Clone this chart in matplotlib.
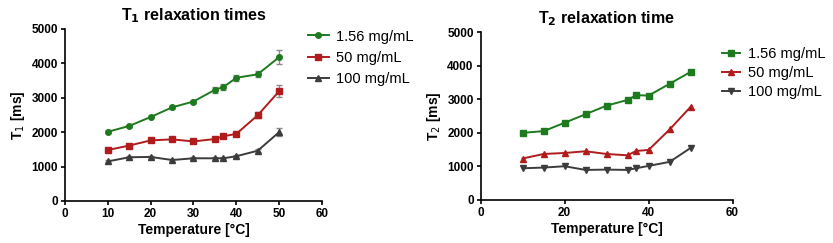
import numpy as np
import matplotlib
matplotlib.use("Agg")
import matplotlib.pyplot as plt
from matplotlib.lines import Line2D

plt.rcParams['font.family'] = ['Liberation Sans', 'DejaVu Sans']

# temperatures
temp = [10, 15, 20, 25, 30, 35, 37, 40, 45, 50]
labels = ['1.56 mg/mL', '50 mg/mL', '100 mg/mL']

# T1 values and error bars
t1_low = [2010, 2180, 2440, 2720, 2890, 3230, 3310, 3580, 3680, 4180]
t1_mid = [1480, 1610, 1760, 1790, 1730, 1800, 1880, 1950, 2490, 3190]
t1_high = [1150, 1270, 1280, 1190, 1240, 1240, 1240, 1300, 1460, 2000]
t1_low_err = [40, 40, 40, 40, 50, 90, 90, 90, 90, 200]
t1_mid_err = [40, 40, 40, 40, 40, 40, 60, 40, 90, 180]
t1_high_err = [30, 30, 30, 30, 30, 30, 30, 30, 40, 110]

# T2 values
t2_low = [2000, 2050, 2300, 2555, 2810, 2980, 3120, 3110, 3460, 3815]
t2_mid = [1235, 1370, 1400, 1450, 1370, 1330, 1460, 1490, 2100, 2775]
t2_high = [945, 965, 1005, 895, 905, 895, 945, 1015, 1135, 1550]

green = '#1e7a1e'
red = '#b01c1c'
gray = '#3c3c3c'

fig = plt.figure(figsize=(8.33, 2.43), dpi=100)
ax1 = fig.add_axes([0.078, 0.173, 0.3085, 0.708])
ax2 = fig.add_axes([0.577, 0.177, 0.3025, 0.691])


def style(ax, sub, title, markers, anchor, spacing, hlen):
    ax.set_xlim(0, 60)
    ax.set_ylim(0, 5000)
    ax.set_yticks([0, 1000, 2000, 3000, 4000, 5000])
    ax.spines['top'].set_visible(False)
    ax.spines['right'].set_visible(False)
    for s in ['left', 'bottom']:
        ax.spines[s].set_linewidth(1.2)
    ax.tick_params(direction='out', length=3, width=1.2, labelsize=8.5, pad=2)
    for lab in ax.get_xticklabels() + ax.get_yticklabels():
        lab.set_fontweight('bold')
    ax.set_xlabel('Temperature [°C]', fontsize=10, fontweight='bold', labelpad=2)
    ax.set_ylabel('T$_{%s}$ [ms]' % sub, fontsize=10, fontweight='bold', labelpad=3)
    ax.set_title('T$_{\\mathbf{%s}}$ relaxation %s' % (sub, title), fontsize=11.5,
                 fontweight='bold', pad=6)
    handles = [Line2D([], [], color=c, marker=m, ms=4, lw=1.4)
               for c, m in zip([green, red, gray], markers)]
    ax.legend(handles, labels, loc='upper left', bbox_to_anchor=anchor, frameon=False,
              fontsize=10.5, handlelength=hlen, handletextpad=0.5, labelspacing=spacing,
              borderaxespad=0)


ebkw = dict(ecolor='#8a8a8a', elinewidth=1, capsize=2, capthick=1)
ax1.errorbar(temp, t1_low, yerr=t1_low_err, color=green, marker='o', ms=4, lw=1.4, **ebkw)
ax1.errorbar(temp, t1_mid, yerr=t1_mid_err, color=red, marker='s', ms=4, lw=1.4, **ebkw)
ax1.errorbar(temp, t1_high, yerr=t1_high_err, color=gray, marker='^', ms=4, lw=1.4, **ebkw)
ax1.set_xticks([0, 10, 20, 30, 40, 50, 60])
style(ax1, '1', 'times', ['o', 's', '^'], (0.924, 1.03), 0.5, 1.4)

ax2.plot(temp, t2_low, color=green, marker='s', ms=4, lw=1.4)
ax2.plot(temp, t2_mid, color=red, marker='^', ms=4, lw=1.4)
ax2.plot(temp, t2_high, color=gray, marker='v', ms=4, lw=1.4)
ax2.set_xticks([0, 20, 40, 60])
style(ax2, '2', 'time', ['s', '^', 'v'], (0.935, 0.945), 0.33, 1.25)

fig.savefig('out.png', dpi=100)
